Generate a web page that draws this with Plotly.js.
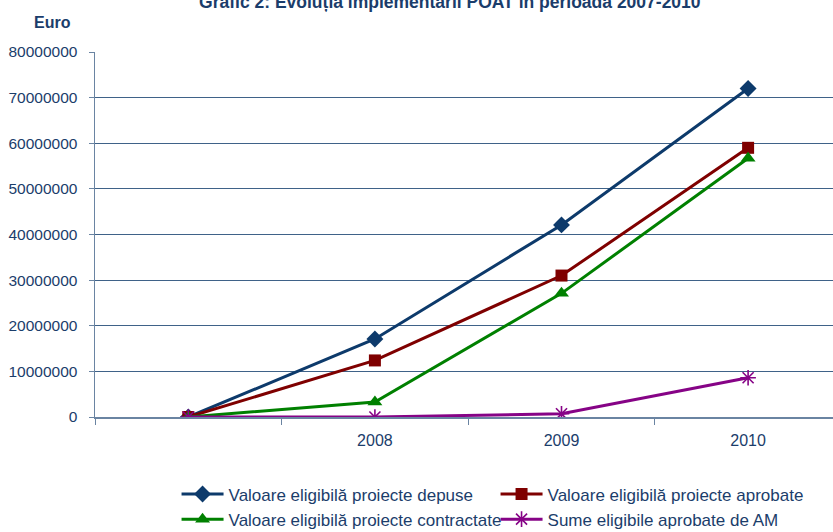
<!DOCTYPE html>
<html>
<head>
<meta charset="utf-8">
<script src="https://cdn.plot.ly/plotly-3.0.1.min.js"></script>
<style>html,body{margin:0;padding:0;overflow:hidden;background:#fff;}</style>
</head>
<body>
<div id="chart" style="width:833px;height:532px;"></div>
<script>
// ---- data ----
const categories = ["", "2008", "2009", "2010"];
const depuse      = [0, 17100000, 42100000, 72000000];
const aprobate    = [0, 12400000, 31000000, 59000000];
const contractate = [0, 3300000, 27100000, 56700000];
const sumeAM      = [0, 0, 700000, 8600000];
const seriesNames = [
  "Valoare eligibilă proiecte depuse",
  "Valoare eligibilă proiecte aprobate",
  "Valoare eligibilă proiecte contractate",
  "Sume eligibile aprobate de AM"
];
const yTicks = [0,10000000,20000000,30000000,40000000,50000000,60000000,70000000,80000000];

const idx = categories.map((c, i) => i);
const navy = "#1b3d6b";
const font = "Liberation Sans, Arial, sans-serif";

function tr(y, name, color, symbol, msize, mline) {
  return {
    x: idx, y: y, name: name, type: "scatter", mode: "lines+markers",
    line: {color: color, width: 3},
    marker: {symbol: symbol, size: msize, color: color,
             line: {color: color, width: mline}}
  };
}
const data = [
  tr(depuse, seriesNames[0], "#0d3a6b", "diamond", 13, 0),
  tr(aprobate, seriesNames[1], "#7f0000", "square", 12, 0),
  tr(contractate, seriesNames[2], "#008000", "triangle-up", 13, 0),
  tr(sumeAM, seriesNames[3], "#860386", "asterisk-open", 13, 1.6)
];

const boundaries = [];
for (let i = 0; i <= categories.length; i++) boundaries.push(i - 0.5);

const layout = {
  width: 833, height: 532,
  margin: {l: 95, r: 0, t: 52, b: 115, autoexpand: false},
  paper_bgcolor: "#fff", plot_bgcolor: "#fff",
  showlegend: true,
  font: {family: font, color: navy, size: 15},
  title: {
    text: "<b>Grafic 2: Evoluția implementării POAT în perioada 2007-2010</b>",
    font: {family: font, size: 17.5, color: navy},
    x: 0.54, xanchor: "center", xref: "container",
    y: 0.997, yanchor: "middle", yref: "container"
  },
  xaxis: {
    range: [-0.5, 3.455], tickmode: "array", tickvals: boundaries,
    showticklabels: false, ticks: "outside", ticklen: 6, tickcolor: "#6a84a2",
    showline: true, linecolor: "#6a84a2", linewidth: 1.5,
    showgrid: false, zeroline: false, fixedrange: true
  },
  xaxis2: {
    overlaying: "x", matches: "x", range: [-0.5, 3.455], side: "bottom",
    tickmode: "array", tickvals: idx, ticktext: categories,
    ticks: "", showline: false, showgrid: false, zeroline: false,
    tickfont: {family: font, size: 16, color: navy}, ticklabelstandoff: 12
  },
  yaxis: {
    range: [0, 80000000], tickmode: "array", tickvals: yTicks,
    tickformat: "d", showline: true, linecolor: "#6a84a2", linewidth: 1.5,
    ticks: "outside", ticklen: 5, tickcolor: "#6a84a2",
    showgrid: true, gridcolor: "#3f6288", gridwidth: 1, zeroline: false,
    tickfont: {family: font, size: 15.5, color: navy}, ticklabelstandoff: 8
  },
  legend: {
    orientation: "h", x: 0.1105, xanchor: "left", y: -0.163, yanchor: "top",
    font: {family: font, size: 17, color: navy},
    itemwidth: 42,
    entrywidth: 262, entrywidthmode: "pixels",
    bgcolor: "rgba(0,0,0,0)", traceorder: "normal"
  },
  annotations: [{
    text: "<b>Euro</b>", xref: "paper", yref: "paper",
    x: -0.058, y: 1.082, xanchor: "center", yanchor: "middle",
    showarrow: false, font: {family: font, size: 16, color: navy}
  }]
};

// invisible trace to anchor xaxis2
data.push({x: [0], y: [0], xaxis: "x2", yaxis: "y", mode: "markers",
  marker: {opacity: 0}, showlegend: false, hoverinfo: "skip"});

Plotly.newPlot("chart", data, layout, {displayModeBar: false, staticPlot: true});
</script>
</body>
</html>
